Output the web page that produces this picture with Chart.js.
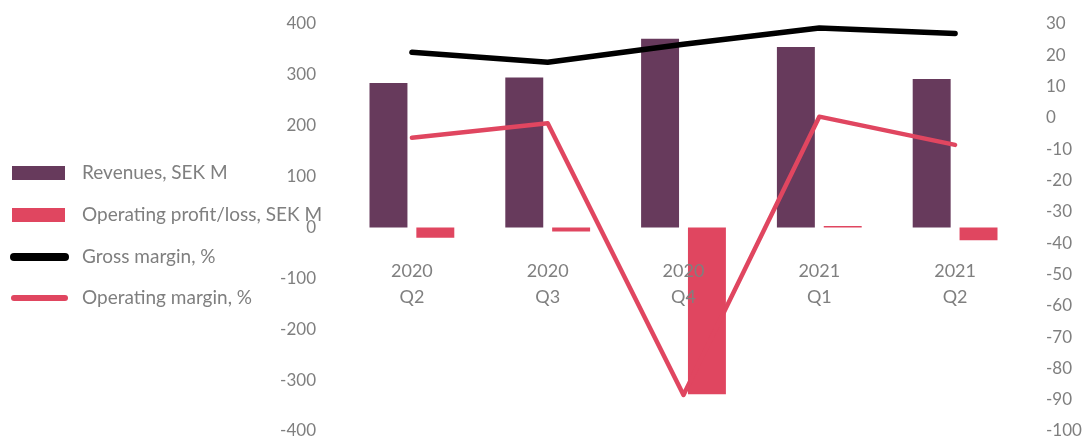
<!DOCTYPE html>
<html>
<head>
<meta charset="utf-8">
<script src="https://cdn.jsdelivr.net/npm/chart.js@4/dist/chart.umd.min.js"></script>
<style>
  html, body { margin: 0; padding: 0; background: #ffffff; }
  #wrap { width: 1083px; height: 440px; }
</style>
</head>
<body>
<div id="wrap"><canvas id="c" width="1083" height="440"></canvas></div>
<script>
const categories = [["2020", "Q2"], ["2020", "Q3"], ["2020", "Q4"], ["2021", "Q1"], ["2021", "Q2"]];
const revenues = [284, 295, 371, 355, 292];
const operatingProfit = [-20, -8, -328, 3, -25];
const grossMargin = [21.0, 17.8, 23.5, 28.7, 27.0];
const operatingMargin = [-6.3, -1.7, -88.5, 0.4, -8.6];
const seriesNames = ["Revenues, SEK M", "Operating profit/loss, SEK M", "Gross margin, %", "Operating margin, %"];

const PURPLE = "#673A5C";
const RED = "#E04660";
const BLACK = "#000000";
const GREY = "#7F7F7F";
const FONT = "Lato, 'Open Sans', sans-serif";

const legendPlugin = {
  id: "sideLegend",
  afterDraw(chart) {
    const ctx = chart.ctx;
    const ds = chart.data.datasets;
    const rows = [173, 215, 257, 298];
    ctx.save();
    ctx.font = "19px " + FONT;
    ctx.textBaseline = "middle";
    ctx.textAlign = "left";
    ds.forEach((d, i) => {
      const y = rows[i];
      if (d.type === "bar") {
        ctx.fillStyle = d.backgroundColor;
        ctx.fillRect(12, y - 7, 53, 14);
      } else {
        ctx.strokeStyle = d.borderColor;
        ctx.lineWidth = i === 2 ? 8 : 6;
        ctx.lineCap = "round";
        ctx.beginPath();
        ctx.moveTo(14, y);
        ctx.lineTo(65, y);
        ctx.stroke();
      }
      ctx.fillStyle = GREY;
      ctx.fillText(d.label, 82, y);
    });
    ctx.restore();
  }
};

function fixVertical(width) {
  return function (s) {
    s.width = width;
    s.paddingTop = 0;
    s.paddingBottom = 0;
  };
}

new Chart(document.getElementById("c"), {
  data: {
    labels: categories,
    datasets: [
      { type: "bar", label: seriesNames[0], data: revenues, backgroundColor: PURPLE, yAxisID: "y", order: 1,
        categoryPercentage: 0.69, barPercentage: 0.81 },
      { type: "bar", label: seriesNames[1], data: operatingProfit, backgroundColor: RED, yAxisID: "y", order: 1,
        categoryPercentage: 0.69, barPercentage: 0.81 },
      { type: "line", label: seriesNames[2], data: grossMargin, borderColor: BLACK, backgroundColor: BLACK, yAxisID: "y1", order: 0,
        borderWidth: 5.5, pointRadius: 0, tension: 0, borderCapStyle: "round", borderJoinStyle: "round", fill: false },
      { type: "line", label: seriesNames[3], data: operatingMargin, borderColor: RED, backgroundColor: RED, yAxisID: "y1", order: 0,
        borderWidth: 4.5, pointRadius: 0, tension: 0, borderCapStyle: "round", borderJoinStyle: "round", fill: false }
    ]
  },
  options: {
    responsive: false,
    animation: false,
    devicePixelRatio: 1,
    layout: { padding: { left: 264, right: 0, top: 24, bottom: 9 } },
    plugins: { legend: { display: false }, tooltip: { enabled: false } },
    scales: {
      x: {
        type: "category",
        position: { y: 0 },
        grid: { display: false },
        border: { display: false },
        ticks: { z: 1, color: GREY, font: { family: FONT, size: 18, lineHeight: 1.44 }, padding: 23, maxRotation: 0, autoSkip: false }
      },
      y: {
        position: "left",
        min: -400, max: 400,
        afterFit: fixVertical(80),
        grid: { display: false },
        border: { display: false },
        ticks: { stepSize: 100, color: GREY, font: { family: FONT, size: 17, lineHeight: 1 }, padding: 20 }
      },
      y1: {
        position: "right",
        min: -100, max: 30,
        afterFit: fixVertical(60),
        grid: { display: false },
        border: { display: false },
        ticks: { stepSize: 10, color: GREY, font: { family: FONT, size: 17, lineHeight: 1 }, padding: 15 }
      }
    }
  },
  plugins: [legendPlugin]
});
</script>
</body>
</html>
